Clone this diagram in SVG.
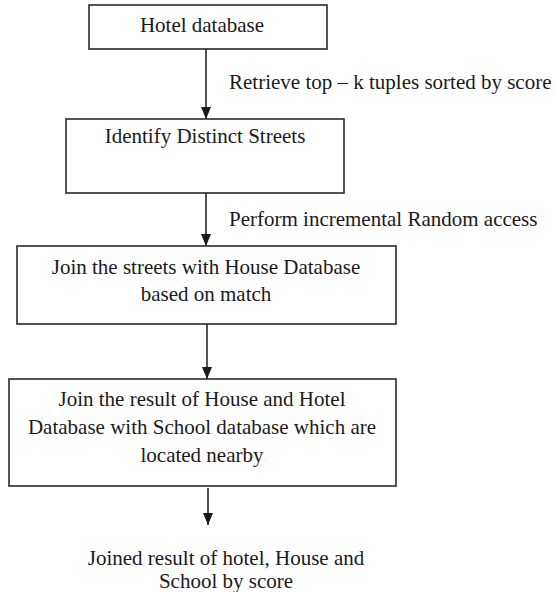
<svg xmlns="http://www.w3.org/2000/svg" width="556" height="592" viewBox="0 0 556 592">
  <style>
    .box { fill: #ffffff; stroke: #2a2a2a; stroke-width: 1.6; }
    .t { font-family: "Liberation Serif", "Times New Roman", "DejaVu Serif", serif; font-size: 21px; fill: #1a1a1a; }
    .c { text-anchor: middle; }
    .edge { stroke: #1a1a1a; stroke-width: 1.5; fill: none; marker-end: url(#arrow); }
  </style>
  <defs>
    <marker id="arrow" markerUnits="userSpaceOnUse" markerWidth="12" markerHeight="10" refX="12" refY="5" orient="auto" viewBox="0 0 12 10">
      <path d="M0,0 L12,5 L0,10 z" fill="#1a1a1a"/>
    </marker>
  </defs>
  <rect width="556" height="592" fill="#ffffff"/>

  <g id="connectors">
    <line class="edge" x1="206" y1="49" x2="206" y2="119"/>
    <line class="edge" x1="206" y1="193" x2="206" y2="246"/>
    <line class="edge" x1="207" y1="324" x2="207" y2="379"/>
    <line class="edge" x1="208" y1="488" x2="208" y2="525"/>
    <text class="t" font-family="Liberation Serif, serif" x="229" y="89">Retrieve top – k tuples sorted by score</text>
    <text class="t" font-family="Liberation Serif, serif" x="229" y="226">Perform incremental Random access</text>
  </g>

  <g id="hotel-database">
    <rect class="box" x="89" y="5" width="238" height="44"/>
    <text class="t c" font-family="Liberation Serif, serif" x="202" y="32">Hotel database</text>
  </g>

  <g id="identify-streets">
    <rect class="box" x="66" y="119" width="278" height="74"/>
    <text class="t c" font-family="Liberation Serif, serif" x="205" y="143">Identify Distinct Streets</text>
  </g>

  <g id="join-house">
    <rect class="box" x="17" y="246" width="379" height="78"/>
    <text class="t c" font-family="Liberation Serif, serif" x="206" y="274">Join the streets with House Database</text>
    <text class="t c" font-family="Liberation Serif, serif" x="206" y="301">based on match</text>
  </g>

  <g id="join-school">
    <rect class="box" x="9" y="379" width="387" height="107"/>
    <text class="t c" font-family="Liberation Serif, serif" x="202" y="406">Join the result of House and Hotel</text>
    <text class="t c" font-family="Liberation Serif, serif" x="202" y="434">Database with School database which are</text>
    <text class="t c" font-family="Liberation Serif, serif" x="202" y="462">located nearby</text>
  </g>

  <g id="result">
    <text class="t c" font-family="Liberation Serif, serif" x="226" y="565">Joined result of hotel, House and</text>
    <text class="t c" font-family="Liberation Serif, serif" x="226" y="588">School by score</text>
  </g>
</svg>
